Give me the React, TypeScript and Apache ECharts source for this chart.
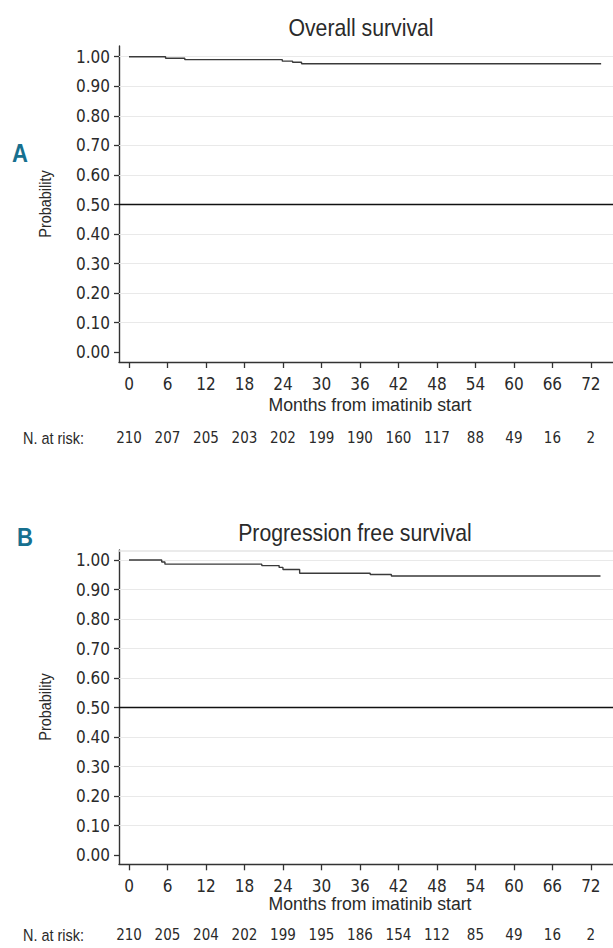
import React, { useEffect, useRef } from "react";
import * as echarts from "echarts";

// ---- data ----
const xTicks = [0, 6, 12, 18, 24, 30, 36, 42, 48, 54, 60, 66, 72];
const yTicks = [0, 0.1, 0.2, 0.3, 0.4, 0.5, 0.6, 0.7, 0.8, 0.9, 1.0];
const gridValues = [0.1, 0.2, 0.3, 0.4, 0.6, 0.7, 0.8, 0.9, 1.0];
const referenceValue = 0.5;

const titleA = "Overall survival";
const titleB = "Progression free survival";
const xAxisTitle = "Months from imatinib start";
const yAxisTitle = "Probability";
const riskLabel = "N. at risk:";

const riskA = [210, 207, 205, 203, 202, 199, 190, 160, 117, 88, 49, 16, 2];
const riskB = [210, 205, 204, 202, 199, 195, 186, 154, 112, 85, 49, 16, 2];

const osTimes = [0, 5.7, 8.7, 23.9, 25.5, 26.9, 73.6];
const osSurv = [1, 0.995, 0.99, 0.985, 0.981, 0.976, 0.976];

const pfsTimes = [0, 5.1, 5.6, 20.7, 23.4, 24.0, 26.6, 37.6, 40.9, 73.5];
const pfsSurv = [1, 0.993, 0.986, 0.981, 0.975, 0.968, 0.955, 0.951, 0.946, 0.946];

// ---- style ----
const AXFONT = "'DejaVu Sans Condensed', 'DejaVu Sans', sans-serif";
const TFONT = "'Liberation Sans', Arial, sans-serif";
const TXT = "#2a2a2a";
const AXIS = "#333333";

const W = 613;
const H = 948;

type Panel = {
  top: number;
  height: number;
  yMin: number;
  yMax: number;
  risk: number[];
  times: number[];
  surv: number[];
  riskOffset: number;
};

const xMin = -1.56;
const xMax = 75.45;
const gridLeft = 119;

const panels: Panel[] = [
  { top: 46, height: 316, yMin: -0.0328, yMax: 1.0362, risk: riskA, times: osTimes, surv: osSurv, riskOffset: 55 },
  { top: 550, height: 314.3, yMin: -0.0315, yMax: 1.0339, risk: riskB, times: pfsTimes, surv: pfsSurv, riskOffset: 50 },
];

function buildOption() {
  const grid: any[] = [];
  const xAxis: any[] = [];
  const yAxis: any[] = [];
  const series: any[] = [];

  panels.forEach((p, i) => {
    grid.push({ left: gridLeft, top: p.top, right: 0, height: p.height, outerBoundsMode: "none", containLabel: false });
    // main x axis
    xAxis.push({
      gridIndex: i,
      type: "value",
      min: xMin,
      max: xMax,
      position: "bottom",
      axisLine: { show: true, onZero: false, lineStyle: { color: AXIS, width: 1.4 } },
      axisTick: { show: true, customValues: xTicks, length: 6, lineStyle: { color: AXIS, width: 1.3 } },
      axisLabel: { customValues: xTicks, margin: 13, fontSize: 17, color: TXT, fontFamily: AXFONT },
      splitLine: { show: false },
    });
    // risk-table axis
    xAxis.push({
      gridIndex: i,
      type: "value",
      min: xMin,
      max: xMax,
      position: "bottom",
      offset: p.riskOffset,
      axisLine: { show: false, onZero: false },
      axisTick: { show: false },
      axisLabel: {
        customValues: xTicks,
        margin: 13,
        fontSize: 15,
        color: TXT,
        fontFamily: AXFONT,
        formatter: (v: number) => String(p.risk[Math.round(v / 6)]),
      },
      splitLine: { show: false },
    });
    yAxis.push({
      gridIndex: i,
      type: "value",
      min: p.yMin,
      max: p.yMax,
      axisLine: { show: true, onZero: false, lineStyle: { color: AXIS, width: 1.4 } },
      axisTick: { show: true, customValues: yTicks, length: 5, lineStyle: { color: AXIS, width: 1.3 } },
      axisLabel: {
        customValues: yTicks,
        margin: 9,
        fontSize: 17,
        color: TXT,
        fontFamily: AXFONT,
        formatter: (v: number) => v.toFixed(2),
      },
      splitLine: { show: false },
    });

    // gridlines
    series.push({
      type: "line",
      xAxisIndex: i * 2,
      yAxisIndex: i,
      data: [],
      z: 1,
      silent: true,
      markLine: {
        silent: true,
        symbol: ["none", "none"],
        label: { show: false },
        animation: false,
        data: [
          ...gridValues.map((v) => ({ yAxis: v, lineStyle: { color: "#e9e9e9", width: 1.2, type: "solid" } })),
          { yAxis: p.yMax, lineStyle: { color: "#e4e4e4", width: 1.5, type: "solid" } },
        ],
      },
    });
    // reference line
    series.push({
      type: "line",
      xAxisIndex: i * 2,
      yAxisIndex: i,
      data: [],
      z: 2,
      silent: true,
      markLine: {
        silent: true,
        symbol: ["none", "none"],
        label: { show: false },
        animation: false,
        data: [{ yAxis: referenceValue, lineStyle: { color: "#111", width: 1.4, type: "solid" } }],
      },
    });
    // survival curve
    series.push({
      type: "line",
      xAxisIndex: i * 2,
      yAxisIndex: i,
      step: "end",
      symbol: "none",
      z: 10,
      lineStyle: { color: "#3a3a3a", width: 1.4 },
      data: p.times.map((t, k) => [t, p.surv[k]]),
    });
  });

  const txt = (text: string, x: number, y: number, size: number, extra: any = {}) => ({
    type: "text",
    x,
    y,
    ...extra,
    style: {
      text,
      fontSize: size,
      fontFamily: TFONT,
      fill: TXT,
      align: "center",
      verticalAlign: "middle",
      ...(extra.style || {}),
    },
  });

  const graphic: any[] = [
    txt(titleA, 361, 28, 24, { scaleX: 0.885 }),
    txt(titleB, 355, 533, 24, { scaleX: 0.885 }),
    txt("A", 20, 153, 26, { scaleX: 0.85, style: { fill: "#17708f", fontWeight: "bold" } }),
    txt("B", 25, 537, 26, { scaleX: 0.85, style: { fill: "#17708f", fontWeight: "bold" } }),
    txt(yAxisTitle, 45, 204, 17, { rotation: Math.PI / 2, scaleX: 0.85 }),
    txt(yAxisTitle, 45, 707, 17, { rotation: Math.PI / 2, scaleX: 0.85 }),
    txt(xAxisTitle, 370, 404, 19, { scaleX: 0.93 }),
    txt(xAxisTitle, 370, 903, 19, { scaleX: 0.93 }),
    txt(riskLabel, 23, 438, 17, { scaleX: 0.85, style: { align: "left" } }),
    txt(riskLabel, 23, 935, 17, { scaleX: 0.85, style: { align: "left" } }),
  ];

  return {
    animation: false,
    backgroundColor: "#ffffff",
    grid,
    xAxis,
    yAxis,
    series,
    graphic,
  };
}

export default function App() {
  const ref = useRef<HTMLDivElement>(null);
  useEffect(() => {
    if (!ref.current) return;
    const chart = echarts.init(ref.current, undefined, { renderer: "svg" });
    chart.setOption(buildOption() as any);
    return () => chart.dispose();
  }, []);
  return (
    <div
      ref={ref}
      style={{ position: "fixed", left: 0, top: 0, width: W, height: H, background: "#fff" }}
    />
  );
}
